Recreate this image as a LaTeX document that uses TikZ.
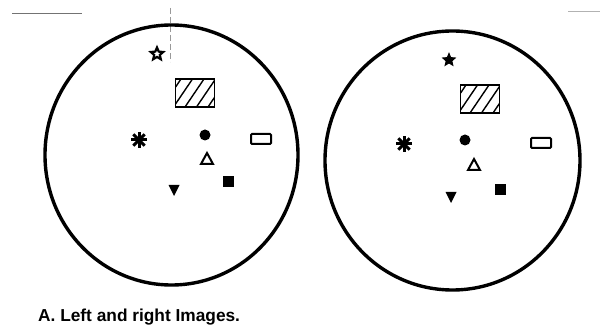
\documentclass[tikz,border=0pt]{standalone}
\usepackage{fontspec}
\setmainfont{Liberation Sans}
\usetikzlibrary{shapes.geometric}
\begin{document}
\begin{tikzpicture}[x=1pt,y=-1pt,
  fieldring/.style={line width=3.4pt},
  thinmark/.style={line width=0.9pt,black!55},
  pics/hatchbox/.style={code={
    \draw[line width=1.4pt] (-19.5,-14) rectangle (19.5,14);
    \begin{scope}
      \clip (-19.5,-14) rectangle (19.5,14);
      \foreach \k in {-2,...,2}
        \draw[line width=1.4pt] (\k*11.5-10,14) -- (\k*11.5+9,-14);
    \end{scope}}},
  pics/starout/.style={code={
    \node[star,star points=5,star point ratio=2.2,minimum size=13pt,inner sep=0pt,draw,line width=2.2pt] {};}},
  pics/starfill/.style={code={
    \node[star,star points=5,star point ratio=2.2,minimum size=13pt,inner sep=0pt,draw,fill,line width=1pt] {};}},
  pics/asterisk/.style={code={
    \foreach \a in {0,45,90,135}
      \draw[line width=3pt] (\a:8) -- (\a+180:8);}},
  pics/blackdot/.style={code={\fill (0,0) circle (5.5);}},
  pics/slot/.style={code={
    \draw[line width=2pt,rounded corners=1pt] (-10,-5) rectangle (10,5);}},
  pics/triup/.style={code={
    \draw[line width=2pt,line join=miter] (-6,5) -- (6,5) -- (0,-6) -- cycle;}},
  pics/blacksq/.style={code={\fill (-5.5,-5.5) rectangle (5.5,5.5);}},
  pics/tridown/.style={code={\fill (-5.5,-5) -- (5.5,-5) -- (0,6) -- cycle;}}
]
\useasboundingbox (0,0) rectangle (603,331);
\fill[white] (0,0) rectangle (603,331);

% scan marks
\draw[thinmark] (12,13) -- (82,13);
\draw[thinmark,black!30] (568,11) -- (600,11);
\draw[line width=0.6pt,black!40,dash pattern=on 6pt off 3pt] (170,8) -- (170,62);

% left image
\draw[fieldring] (171.5,155) ellipse [x radius=126.5, y radius=130];
\pic at (157,54) {starout};
\pic at (195,93) {hatchbox};
\pic at (139,140) {asterisk};
\pic at (205,135) {blackdot};
\pic at (261,139) {slot};
\pic at (207,159) {triup};
\pic at (228,182) {blacksq};
\pic at (174,190) {tridown};

% right image
\draw[fieldring] (452.5,160.5) ellipse [x radius=127.5, y radius=129.5];
\pic at (449,60) {starfill};
\pic at (480,99) {hatchbox};
\pic at (404,144) {asterisk};
\pic at (465,140) {blackdot};
\pic at (541,143) {slot};
\pic at (474,165) {triup};
\pic at (500,190) {blacksq};
\pic at (451,197) {tridown};

\node[anchor=base west,inner sep=0pt,font=\fontsize{17.3}{20}\selectfont\bfseries] (caption) at (38,322) {A. Left and right Images.};
\end{tikzpicture}
\end{document}
